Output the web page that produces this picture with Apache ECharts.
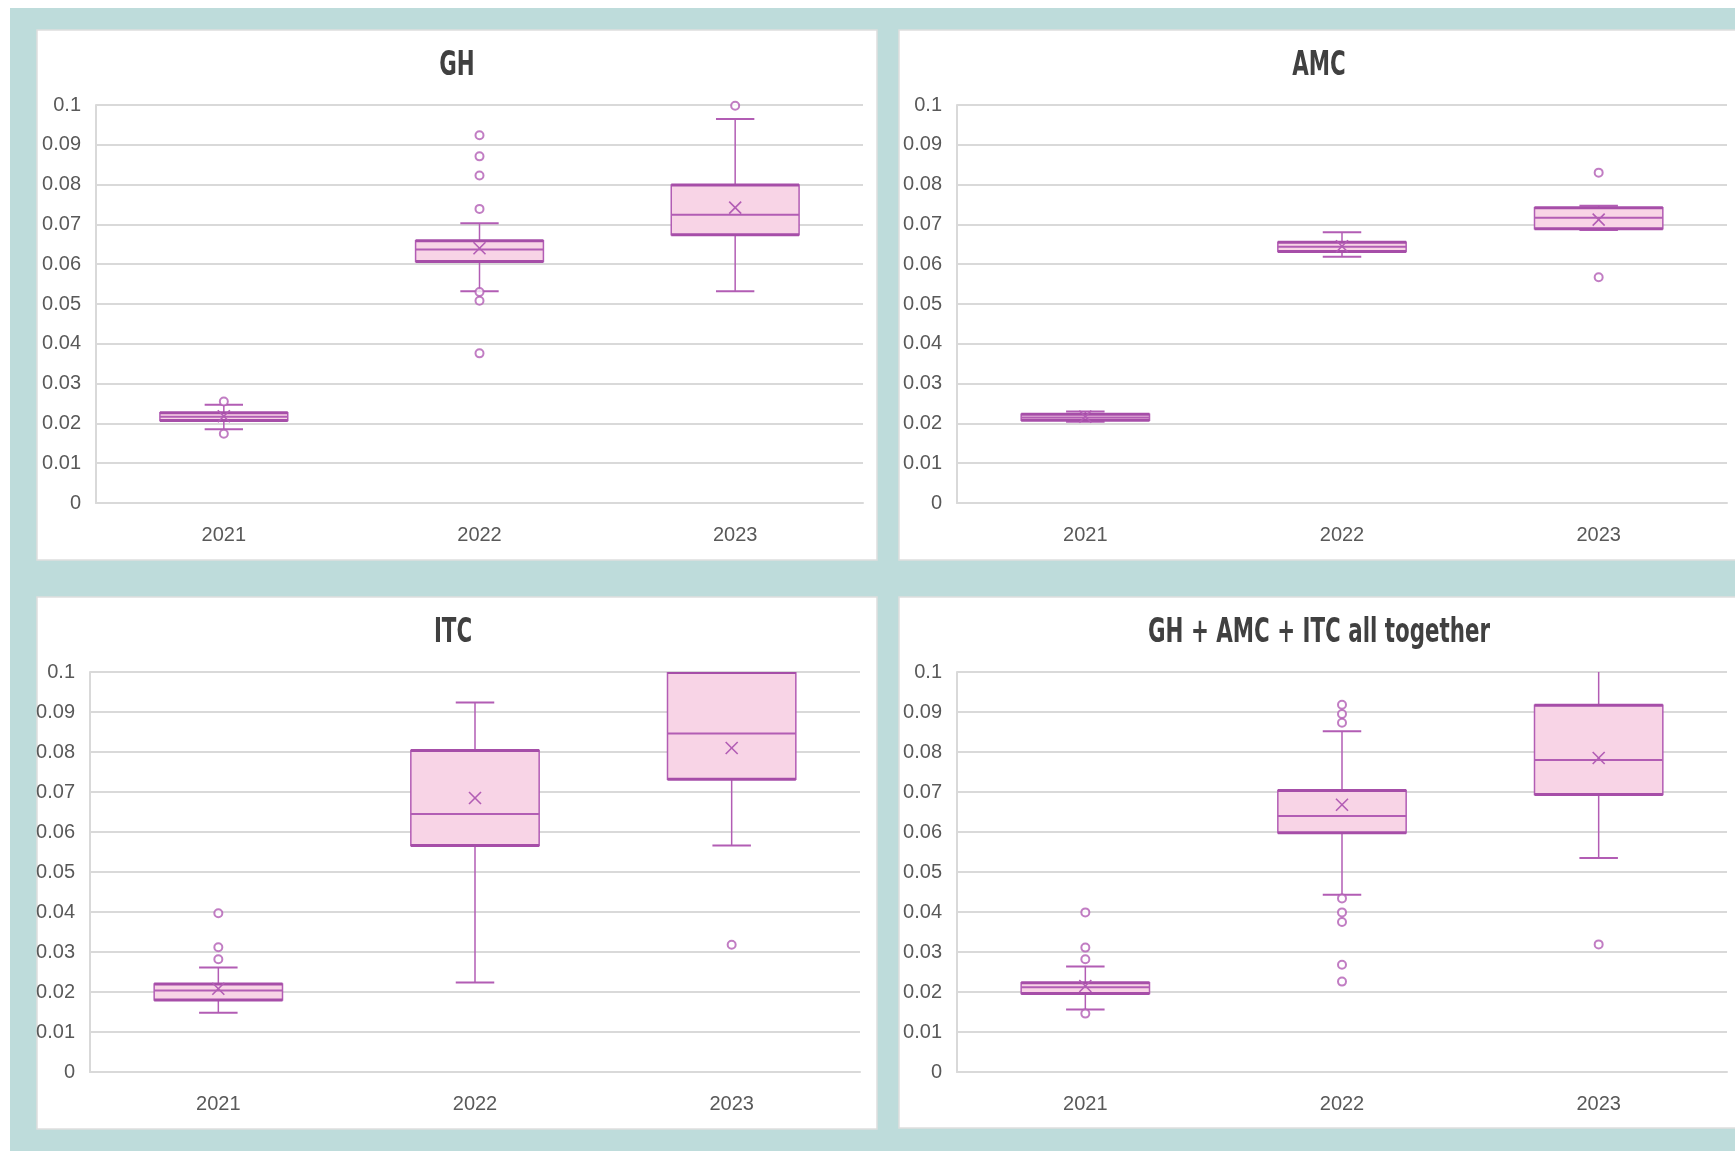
<!DOCTYPE html>
<html>
<head>
<meta charset="utf-8">
<title>Box plots 2021–2023</title>
<script src="https://cdn.jsdelivr.net/npm/echarts@6/dist/echarts.min.js"></script>
<style>
  html, body { margin: 0; padding: 0; background: #ffffff; }
  #chart { width: 1735px; height: 1151px; }
</style>
</head>
<body>
<div id="chart"></div>
<script>
// ---- data -------------------------------------------------------------
const years = ['2021', '2022', '2023'];
const yTicks = [0, 0.01, 0.02, 0.03, 0.04, 0.05, 0.06, 0.07, 0.08, 0.09, 0.1];

// box rows: [lower whisker, Q1, median, Q3, upper whisker]
const ghBox = [
  [0.0185, 0.0207, 0.0217, 0.0227, 0.0247],
  [0.0532, 0.0607, 0.0637, 0.0659, 0.0703],
  [0.0532, 0.0674, 0.0724, 0.0799, 0.0965]
];
const ghMean = [0.0218, 0.0640, 0.0742];
const ghOutliers = [
  [0.0255, 0.0174],
  [0.0924, 0.0871, 0.0823, 0.0739, 0.0530, 0.0508, 0.0376],
  [0.0998]
];

const amcBox = [
  [0.0204, 0.0208, 0.0215, 0.0223, 0.0230],
  [0.0619, 0.0632, 0.0644, 0.0655, 0.0680],
  [0.0686, 0.0689, 0.0717, 0.0742, 0.0747]
];
const amcMean = [0.0217, 0.0645, 0.0712];
const amcOutliers = [
  [],
  [],
  [0.0830, 0.0567]
];

const itcBox = [
  [0.0148, 0.0180, 0.0204, 0.0220, 0.0261],
  [0.0224, 0.0566, 0.0645, 0.0804, 0.0924],
  [0.0566, 0.0732, 0.0846, 0.0999, 0.1020]
];
const itcMean = [0.0208, 0.0685, 0.0810];
const itcOutliers = [
  [0.0397, 0.0312, 0.0282],
  [],
  [0.0318]
];

const allBox = [
  [0.0156, 0.0196, 0.0212, 0.0223, 0.0264],
  [0.0443, 0.0598, 0.0640, 0.0704, 0.0852],
  [0.0535, 0.0694, 0.0780, 0.0917, 0.1020]
];
const allMean = [0.0215, 0.0668, 0.0785];
const allOutliers = [
  [0.0399, 0.0311, 0.0282, 0.0146],
  [0.0918, 0.0895, 0.0873, 0.0434, 0.0399, 0.0375, 0.0268, 0.0226],
  [0.0319]
];

const panelTitles = ['GH', 'AMC', 'ITC', 'GH + AMC + ITC all together'];
const panelBoxes = [ghBox, amcBox, itcBox, allBox];
const panelMeans = [ghMean, amcMean, itcMean, allMean];
const panelOutliers = [ghOutliers, amcOutliers, itcOutliers, allOutliers];

// ---- styling / layout -------------------------------------------------
const FONT = "'Liberation Sans', Arial, sans-serif";
const TITLE_FONT = "'DejaVu Sans Condensed', 'DejaVu Sans', sans-serif";
const STROKE = '#b25db4';
const STROKE_DARK = '#a64ea8';
const FILL = '#f8d4e6';
const GRIDLINE = '#d9d9d9';
const TEAL = '#bedcdb';

// white panel cards
const panels = [
  { x: 37,  y: 30,  w: 840, h: 530 },
  { x: 899, y: 30,  w: 840, h: 530 },
  { x: 37,  y: 597, w: 840, h: 532 },
  { x: 899, y: 597, w: 840, h: 531 }
];
// plot areas
const grids = [
  { left: 96,  top: 105, width: 767, height: 398 },
  { left: 957, top: 105, width: 770, height: 398 },
  { left: 90,  top: 672, width: 770, height: 400 },
  { left: 957, top: 672, width: 770, height: 400 }
];
// title centres
const titlePos = [
  { cx: 457,  cy: 66 },
  { cx: 1319, cy: 66 },
  { cx: 453,  cy: 633 },
  { cx: 1319, cy: 633 }
];

// ---- box drawing ------------------------------------------------------
function renderBox(params, api) {
  const xi = api.value(0);
  const lo = api.value(1), q1 = api.value(2), med = api.value(3),
        q3 = api.value(4), hi = api.value(5), mean = api.value(6);
  const band = api.size([1, 0])[0];
  const bw = band * 0.5;
  const cw = band * 0.15;
  const cx = api.coord([xi, med])[0];
  const y = v => api.coord([xi, v])[1];
  const yLo = y(lo), yQ1 = y(q1), yMed = y(med), yQ3 = y(q3), yHi = y(hi), yMean = y(mean);
  const line = (x1, y1, x2, y2, w, c) => ({
    type: 'line',
    shape: { x1: x1, y1: y1, x2: x2, y2: y2 },
    style: { stroke: c || STROKE, lineWidth: w }
  });
  const m = 6;
  return {
    type: 'group',
    children: [
      // whiskers and caps
      line(cx, yQ3, cx, yHi, 1.5),
      line(cx, yQ1, cx, yLo, 1.5),
      line(cx - cw / 2, yHi, cx + cw / 2, yHi, 2),
      line(cx - cw / 2, yLo, cx + cw / 2, yLo, 2),
      // interquartile box
      {
        type: 'rect',
        shape: { x: cx - bw / 2, y: yQ3, width: bw, height: yQ1 - yQ3 },
        style: { fill: FILL, stroke: STROKE, lineWidth: 1.5 }
      },
      line(cx - bw / 2, yQ3, cx + bw / 2, yQ3, 3, STROKE_DARK),
      line(cx - bw / 2, yQ1, cx + bw / 2, yQ1, 3, STROKE_DARK),
      // median
      line(cx - bw / 2, yMed, cx + bw / 2, yMed, 2),
      // mean marker (x)
      line(cx - m, yMean - m, cx + m, yMean + m, 1.6),
      line(cx - m, yMean + m, cx + m, yMean - m, 1.6)
    ]
  };
}

// ---- option -----------------------------------------------------------
const graphic = [
  { type: 'rect', shape: { x: 10, y: 8, width: 1725, height: 1143 }, style: { fill: TEAL }, silent: true, z: -10 }
].concat(panels.map(p => ({
  type: 'rect',
  shape: { x: p.x, y: p.y, width: p.w, height: p.h },
  style: { fill: '#ffffff', stroke: '#dedede', lineWidth: 1.5 },
  silent: true,
  z: -9
}))).concat(panelTitles.map((t, i) => ({
  // condensed bold panel headings
  type: 'text',
  x: titlePos[i].cx,
  y: titlePos[i].cy,
  scaleX: 0.72,
  silent: true,
  z: 10,
  style: {
    text: t,
    font: 'bold 33px ' + TITLE_FONT,
    fill: '#404040',
    textAlign: 'center',
    textVerticalAlign: 'middle'
  }
})));

const option = {
  backgroundColor: '#ffffff',
  animation: false,
  graphic: graphic,
  grid: grids.map(g => Object.assign({ containLabel: false }, g)),
  xAxis: grids.map((g, i) => ({
    type: 'category',
    gridIndex: i,
    data: years,
    axisTick: { show: false },
    axisLine: { show: true, lineStyle: { color: GRIDLINE, width: 2 } },
    axisLabel: { fontFamily: FONT, fontSize: 20, color: '#595959', margin: 22 },
    splitLine: { show: false }
  })),
  yAxis: grids.map((g, i) => ({
    type: 'value',
    gridIndex: i,
    min: yTicks[0],
    max: yTicks[yTicks.length - 1],
    interval: yTicks[1] - yTicks[0],
    axisTick: { show: false },
    axisLine: { show: true, lineStyle: { color: GRIDLINE, width: 2 } },
    axisLabel: {
      fontFamily: FONT, fontSize: 20, color: '#595959', margin: 15,
      formatter: v => String(+v.toFixed(2))
    },
    splitLine: { show: true, lineStyle: { color: GRIDLINE, width: 2 } }
  })),
  series: []
};

panelBoxes.forEach((boxes, i) => {
  option.series.push({
    type: 'custom',
    xAxisIndex: i,
    yAxisIndex: i,
    clip: true,
    renderItem: renderBox,
    encode: { x: 0, y: [1, 2, 3, 4, 5] },
    data: boxes.map((b, k) => [k].concat(b).concat([panelMeans[i][k]])),
    z: 3
  });
  const pts = [];
  panelOutliers[i].forEach((vals, k) => vals.forEach(v => pts.push([k, v])));
  option.series.push({
    type: 'scatter',
    xAxisIndex: i,
    yAxisIndex: i,
    symbol: 'emptyCircle',
    symbolSize: 8,
    itemStyle: { color: STROKE, borderColor: STROKE, borderWidth: 1.8 },
    data: pts,
    z: 4
  });
});

const chart = echarts.init(document.getElementById('chart'), null, { renderer: 'canvas' });
chart.setOption(option);
</script>
</body>
</html>
